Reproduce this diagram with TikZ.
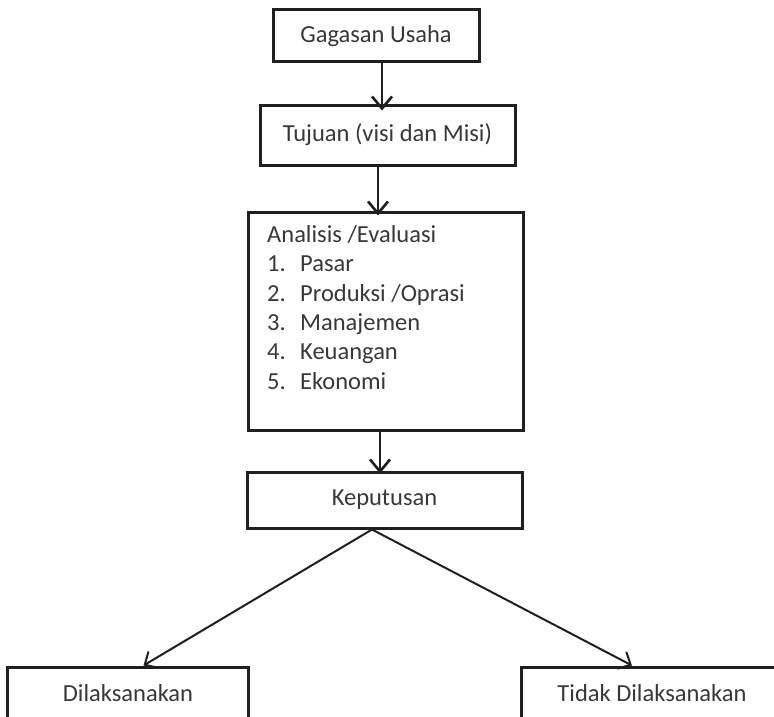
\documentclass[tikz,border=0pt]{standalone}
\usepackage{fontspec}
\setmainfont{Carlito}
\usetikzlibrary{arrows.meta,calc}
\begin{document}
\begin{tikzpicture}[x=1pt,y=-1pt,
  label text/.style={font=\fontsize{24.5}{29.4}\selectfont, text=black!78},
  box/.style={draw=black!88, line width=3pt, inner sep=0pt, label text},
  arr/.style={draw=black!88, line width=2.6pt, -{Straight Barb[length=12pt,width=20pt,line width=2.6pt]}},
  diag/.style={draw=black!88, line width=2pt, -{Straight Barb[length=10pt,width=19pt,line width=2pt]}}]
\useasboundingbox (0,0) rectangle (774,717);
\clip (0,0) rectangle (774,717);

% flow boxes
\node[box, minimum width=206, minimum height=52] (gagasan) at (376,36) {Gagasan Usaha};
\node[box, minimum width=255, minimum height=60] (tujuan) at (387.5,135) {Tujuan (visi dan Misi)};
\node[box, minimum width=275, minimum height=218] (analisis) at (385.5,321) {};
\node[label text, align=left, inner sep=0pt, anchor=north west]
  (analisisText) at (267,225) {Analisis /Evaluasi\\
  \makebox[33pt][l]{1.}Pasar\\
  \makebox[33pt][l]{2.}Produksi /Oprasi\\
  \makebox[33pt][l]{3.}Manajemen\\
  \makebox[33pt][l]{4.}Keuangan\\
  \makebox[33pt][l]{5.}Ekonomi};
\node[box, minimum width=275, minimum height=56] (keputusan) at (384.5,500) {Keputusan};
\node[box, minimum width=241, minimum height=66] (dila) at (127.5,700) {};
\node[label text] (dilaText) at (128,693) {Dilaksanakan};
\node[box, minimum width=264, minimum height=66] (tidak) at (653,700) {};
\node[label text] (tidakText) at (652,693) {Tidak Dilaksanakan};

% connectors
\draw[arr] ([xshift=6pt]gagasan.south) -- ([xshift=6pt,yshift=-7pt]gagasan.south |- tujuan.north);
\draw[arr] ([xshift=-9.5pt]tujuan.south) -- ([xshift=-9.5pt,yshift=-5pt]tujuan.south |- analisis.north);
\draw[arr] ([xshift=-5.5pt]analisis.south) -- ([xshift=-5.5pt,yshift=-3pt]analisis.south |- keputusan.north);
\draw[diag] ([xshift=-12.5pt]keputusan.south) -- ([xshift=16pt]dila.north);
\draw[diag] ([xshift=-12.5pt]keputusan.south) -- ([xshift=-21pt]tidak.north);
\end{tikzpicture}
\end{document}
